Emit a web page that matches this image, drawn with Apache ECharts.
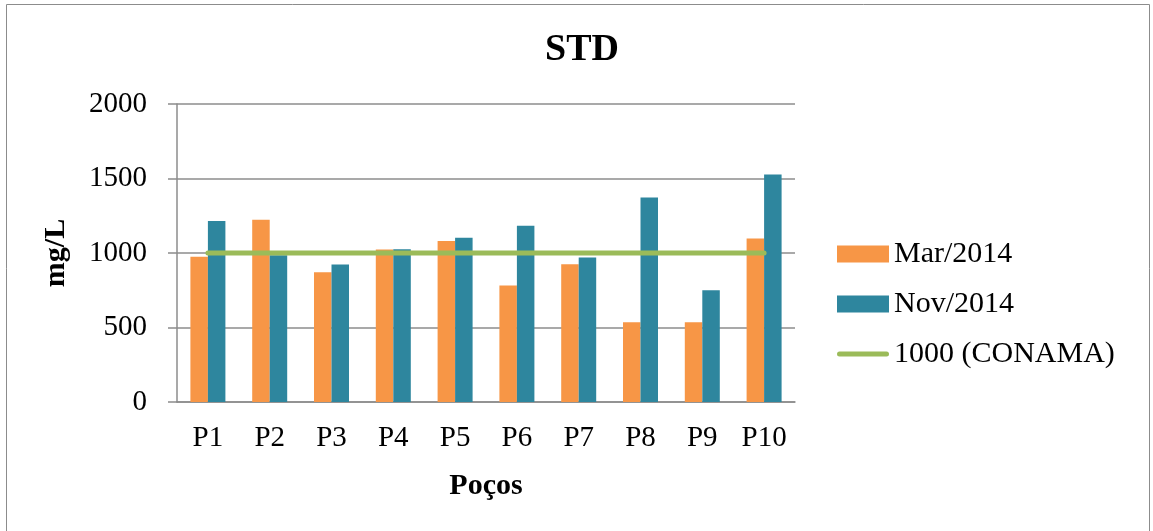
<!DOCTYPE html>
<html>
<head>
<meta charset="utf-8">
<script src="https://cdn.jsdelivr.net/npm/echarts@6/dist/echarts.min.js"></script>
<style>
html,body{margin:0;padding:0;background:#fff;}
#chart{width:1153px;height:531px;}
</style>
</head>
<body>
<div id="chart"></div>
<script>
const categories = ['P1','P2','P3','P4','P5','P6','P7','P8','P9','P10'];
const mar2014 = [975, 1223, 871, 1023, 1080, 782, 924, 536, 536, 1098];
const nov2014 = [1214, 985, 922, 1025, 1103, 1183, 969, 1373, 750, 1527];
const conama = [1000, 1000, 1000, 1000, 1000, 1000, 1000, 1000, 1000, 1000];
const seriesNames = ['Mar/2014', 'Nov/2014', '1000 (CONAMA)'];

const FONT = '"Liberation Serif", "Times New Roman", serif';
const LINE_ICON = 'path://M2.5,0 L49.5,0 A2.5,2.5 0 0 1 49.5,5 L2.5,5 A2.5,2.5 0 0 1 2.5,0 Z';
const chart = echarts.init(document.getElementById('chart'));
chart.setOption({
  animation: false,
  textStyle: { fontFamily: FONT, color: '#000' },
  title: {
    text: 'STD',
    left: 540, top: 26,
    textStyle: { fontFamily: FONT, fontSize: 38, fontWeight: 'bold', color: '#000' }
  },
  graphic: [{
    type: 'rect',
    shape: { x: 6.5, y: 4.5, width: 1143, height: 540 },
    style: { fill: 'none', stroke: '#8c8c8c', lineWidth: 1 },
    silent: true
  }],
  legend: {
    orient: 'vertical',
    left: 837, top: 239, padding: 0,
    itemWidth: 52, itemHeight: 17, itemGap: 20,
    textStyle: { fontFamily: FONT, fontSize: 30, lineHeight: 30, color: '#000' },
    data: [
      { name: seriesNames[0], icon: 'rect' },
      { name: seriesNames[1], icon: 'rect' },
      { name: seriesNames[2], icon: LINE_ICON, itemStyle: { color: '#9BBB59' } }
    ]
  },
  grid: { left: 177, right: 358, top: 104, bottom: 129 },
  xAxis: {
    type: 'category',
    data: categories,
    name: 'Poços',
    nameLocation: 'middle',
    nameGap: 69,
    nameTextStyle: { fontFamily: FONT, fontSize: 30, fontWeight: 'bold', color: '#000' },
    axisLine: { lineStyle: { color: '#8c8c8c', width: 1.5 } },
    axisTick: { show: false },
    axisLabel: { fontFamily: FONT, fontSize: 29, color: '#000', margin: 22 }
  },
  yAxis: {
    type: 'value',
    min: 0, max: 2000, interval: 500,
    name: 'mg/L',
    nameLocation: 'middle',
    nameGap: 106,
    nameRotate: 90,
    nameTextStyle: { fontFamily: FONT, fontSize: 30, fontWeight: 'bold', color: '#000' },
    axisLine: { show: true, lineStyle: { color: '#8c8c8c', width: 1.5 } },
    axisTick: { show: true, length: 9, lineStyle: { color: '#8c8c8c', width: 1.5 } },
    axisLabel: { fontFamily: FONT, fontSize: 29, color: '#000', margin: 30, formatter: v => String(v) },
    splitLine: { lineStyle: { color: '#8c8c8c', width: 1.5 } }
  },
  series: [
    {
      name: seriesNames[0], type: 'bar', data: mar2014,
      barWidth: 17.5, barGap: '0%',
      itemStyle: { color: '#F79646' }
    },
    {
      name: seriesNames[1], type: 'bar', data: nov2014,
      barWidth: 17.5, barGap: '0%',
      itemStyle: { color: '#2E869E' }
    },
    {
      name: seriesNames[2], type: 'line', data: conama,
      symbol: 'none', z: 5,
      lineStyle: { color: '#9BBB59', width: 5, cap: 'round' },
      itemStyle: { color: '#9BBB59' }
    }
  ]
});
</script>
</body>
</html>
